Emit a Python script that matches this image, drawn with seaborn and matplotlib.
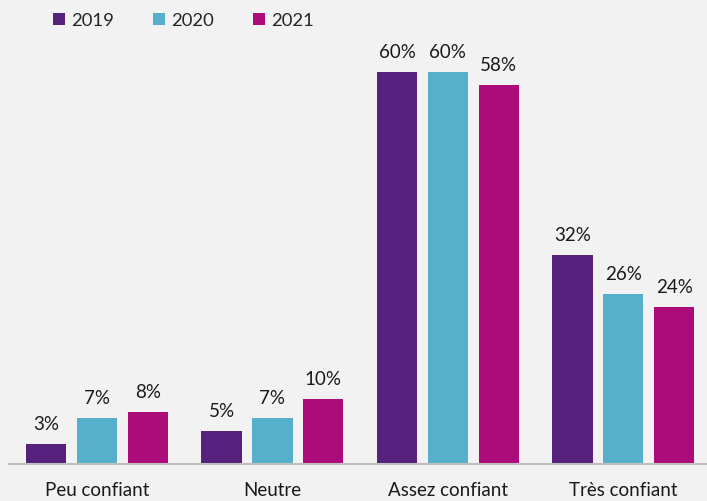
import matplotlib
matplotlib.use("Agg")
import matplotlib.pyplot as plt
import seaborn as sns
import pandas as pd
from matplotlib.patches import Patch

categories = ["Peu confiant", "Neutre", "Assez confiant", "Très confiant"]
years = ["2019", "2020", "2021"]
v2019 = [3, 5, 60, 32]
v2020 = [7, 7, 60, 26]
v2021 = [8, 10, 58, 24]
colors = ["#56217D", "#56B0CC", "#AD0A7A"]

rows = []
for y, vals in zip(years, [v2019, v2020, v2021]):
    for c, v in zip(categories, vals):
        rows.append({"cat": c, "year": y, "val": v})
df = pd.DataFrame(rows)

sns.set_style("white")
plt.rcParams["font.family"] = ["Lato", "DejaVu Sans"]

W, H = 707, 501
fig = plt.figure(figsize=(W / 100, H / 100), dpi=100, facecolor="#F2F2F2")
ax = fig.add_axes([9.25 / W, (H - 464) / H, 701.75 / W, 464 / H])
ax.set_facecolor("#F2F2F2")

sns.barplot(data=df, x="cat", y="val", hue="year", order=categories,
            hue_order=years, palette=colors, width=0.87, gap=0.21,
            ax=ax, legend=False, saturation=1, edgecolor="none", linewidth=0)

for cont in ax.containers:
    ax.bar_label(cont, labels=[f"{int(v)}%" for v in cont.datavalues],
                 padding=8, fontsize=13.5, color="#1a1a1a")

ax.set_xlim(-0.5, 3.5)
ax.set_ylim(0, 71)
ax.set_xlabel("")
ax.set_ylabel("")
ax.set_yticks([])
ax.tick_params(axis="x", length=0, pad=13, labelsize=13.5, labelcolor="#1a1a1a")
for s in ["top", "right", "left"]:
    ax.spines[s].set_visible(False)
ax.spines["bottom"].set_color("#BFBFBF")
ax.spines["bottom"].set_linewidth(1.5)

handles = [Patch(facecolor=c, edgecolor="none", label=y) for c, y in zip(colors, years)]
fig.legend(handles=handles, loc="upper left", bbox_to_anchor=(36 / W, 1 + 4 / H),
           ncol=3, frameon=False, fontsize=13.3, handlelength=0.65, handleheight=0.65,
           handletextpad=0.35, columnspacing=2.1)

fig.savefig("out.png", dpi=100, facecolor=fig.get_facecolor())
